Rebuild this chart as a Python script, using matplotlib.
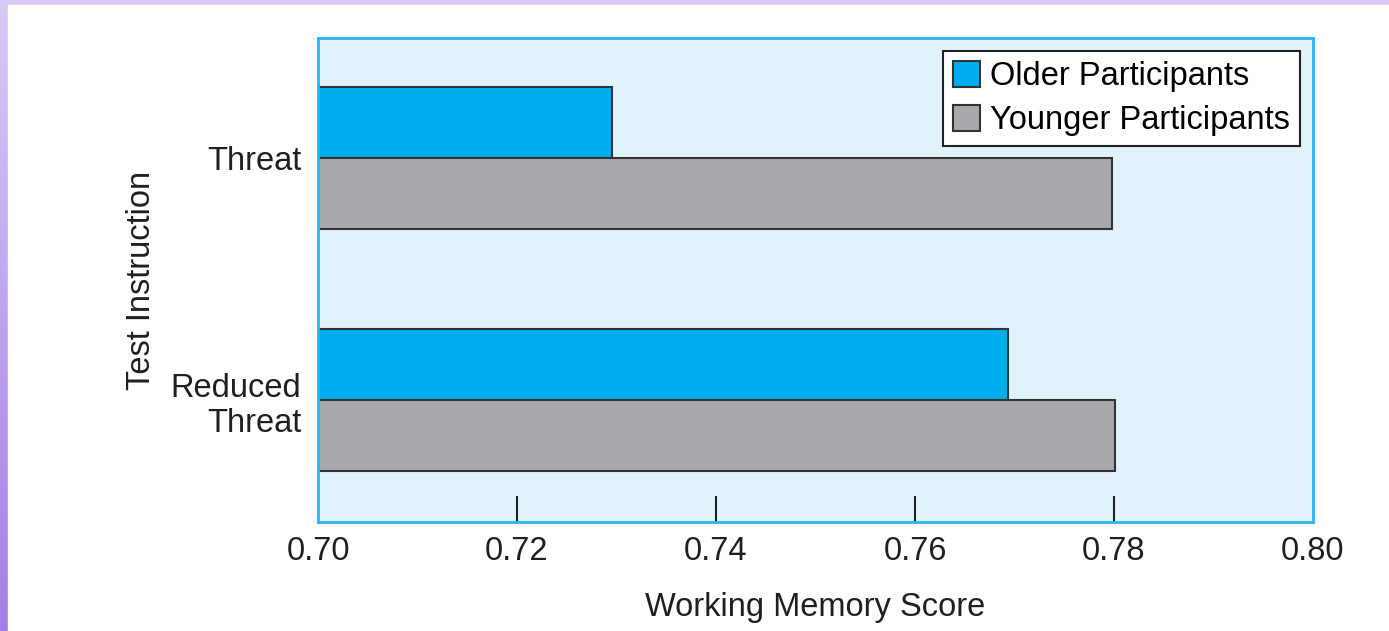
import numpy as np
import matplotlib.pyplot as plt
from matplotlib.patches import Rectangle

plt.rcParams['font.family'] = ['Liberation Sans', 'DejaVu Sans']

conditions = ["Threat", "Reduced\nThreat"]
older = [0.7295, 0.7693]
younger = [0.7798, 0.7801]
x_ticks = [0.70, 0.72, 0.74, 0.76, 0.78, 0.80]

fig = plt.figure(figsize=(13.89, 6.31), dpi=100)

# purple gradient frame behind everything
bg = fig.add_axes([0, 0, 1, 1], zorder=-10)
grad = np.linspace(0, 1, 256).reshape(-1, 1)
top_col = np.array([0.85, 0.79, 0.96])
bot_col = np.array([0.64, 0.50, 0.90])
img = top_col + grad[..., None] * (bot_col - top_col)
bg.imshow(img.reshape(256, 1, 3), aspect='auto', extent=[0, 1, 0, 1])
bg.add_patch(Rectangle((8 / 1389, 0), 1, 1 - 5 / 631, color='white'))
bg.set_xlim(0, 1)
bg.set_ylim(0, 1)
bg.axis('off')

ax = fig.add_axes([318 / 1389, 1 - 522 / 631, 995 / 1389, 484 / 631])
ax.set_facecolor('#e0f3fd')

y = np.arange(len(conditions))
h = 0.293
ax.barh(y - h / 2, older, height=h, color='#00aeef', edgecolor='#333333',
        linewidth=1.5, label='Older Participants')
ax.barh(y + h / 2, younger, height=h, color='#a7a9ac', edgecolor='#333333',
        linewidth=1.5, label='Younger Participants')

ax.set_xlim(0.70, 0.80)
ax.set_ylim(1.504, -0.496)
ax.set_xticks(x_ticks)
ax.set_xticklabels([f"{v:.2f}" for v in x_ticks])
ax.set_yticks(y)
ax.set_yticklabels(conditions)
ax.tick_params(axis='x', direction='in', length=19, width=1.5, color='#222222',
               labelsize=23.5, pad=10, labelcolor='#231f20')
ax.tick_params(axis='y', length=0, labelsize=23.5, pad=12, labelcolor='#231f20')
xt = ax.xaxis.get_major_ticks()
xt[0].tick1line.set_visible(False)
xt[-1].tick1line.set_visible(False)
for s in ax.spines.values():
    s.set_color('#29b5ef')
    s.set_linewidth(2)

ax.set_xlabel("Working Memory Score", fontsize=23.5, labelpad=18, color='#231f20')
ax.set_ylabel("Test Instruction", fontsize=23.5, labelpad=10, color='#231f20')

leg = ax.legend(loc='upper right', fontsize=23.5, frameon=True, fancybox=False,
                edgecolor='#222222', framealpha=1, borderpad=0.3,
                handlelength=0.85, handleheight=0.85, handletextpad=0.3,
                labelspacing=0.38, borderaxespad=0.4)
leg.get_frame().set_linewidth(1.5)

fig.savefig("out.png", dpi=100)
